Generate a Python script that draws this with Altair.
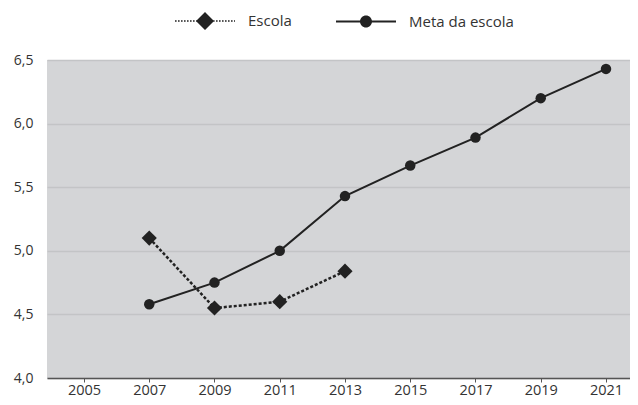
import altair as alt
import pandas as pd

anos_escola = [2007, 2009, 2011, 2013]
valores_escola = [5.10, 4.55, 4.60, 4.84]
anos_meta = [2007, 2009, 2011, 2013, 2015, 2017, 2019, 2021]
valores_meta = [4.58, 4.75, 5.00, 5.43, 5.67, 5.89, 6.20, 6.43]
x_ticks = [2005, 2007, 2009, 2011, 2013, 2015, 2017, 2019, 2021]
y_ticks = [4.0, 4.5, 5.0, 5.5, 6.0, 6.5]
series = ["Escola", "Meta da escola"]

df_escola = pd.DataFrame({"ano": anos_escola, "valor": valores_escola, "serie": "Escola"})
df_meta = pd.DataFrame({"ano": anos_meta, "valor": valores_meta, "serie": "Meta da escola"})
df_all = pd.concat([df_escola, df_meta], ignore_index=True)

INK = "#222222"

# legend glyphs (custom filled symbol paths: line + marker), 1 unit = 10 px
def bar(a, b, h=0.1):
    return f"M{a:.2f},{-h:.2f}H{b:.2f}V{h:.2f}H{a:.2f}Z"

def dotted(a, b, seg=0.16, gap=0.14):
    parts = []
    x = a
    while x < b - 1e-9:
        x2 = min(x + seg, b)
        parts.append(bar(x, x2, 0.08))
        x += seg + gap
    return "".join(parts)

c = 2.0
escola_path = dotted(c - 3, c - 0.8) + dotted(c + 0.8, c + 3) + \
    f"M{c-0.9:.2f},0L{c:.2f},-0.9L{c+0.9:.2f},0L{c:.2f},0.9Z"
meta_path = bar(c - 3, c + 3, 0.09) + \
    f"M{c-0.6:.2f},0A0.6,0.6 0 1,1 {c+0.6:.2f},0A0.6,0.6 0 1,1 {c-0.6:.2f},0Z"

x_enc = alt.X("ano:Q",
              scale=alt.Scale(domain=[2003.866, 2021.736], nice=False, zero=False),
              axis=alt.Axis(values=x_ticks, format="d", title=None, grid=False,
                            domainColor="#555555", domainWidth=1.5,
                            tickColor="#555555", tickSize=4, tickWidth=1,
                            labelColor="#333333", labelFont="Open Sans",
                            labelFontSize=14.5, labelPadding=1))
y_enc = alt.Y("valor:Q",
              scale=alt.Scale(domain=[4.0, 6.5], nice=False, zero=False),
              axis=alt.Axis(values=y_ticks, title=None, domain=False, ticks=False,
                            grid=True, gridColor="#c3c4c6", gridWidth=1.5,
                            labelExpr="replace(format(datum.value, '.1f'), '.', ',')",
                            labelColor="#333333", labelFont="Open Sans",
                            labelFontSize=14, labelPadding=14))

base_e = alt.Chart(df_escola)
base_m = alt.Chart(df_meta)

line_e = base_e.mark_line(color=INK, strokeWidth=2.5, strokeDash=[3, 2]).encode(x=x_enc, y=y_enc)
pts_e = base_e.mark_point(shape="diamond", filled=True, color=INK, size=230, opacity=1).encode(x="ano:Q", y="valor:Q")
line_m = base_m.mark_line(color=INK, strokeWidth=2).encode(x="ano:Q", y="valor:Q")
pts_m = base_m.mark_point(shape="circle", filled=True, color=INK, size=110, opacity=1).encode(x="ano:Q", y="valor:Q")

legend_layer = alt.Chart(df_all).transform_filter("false").mark_point(
    filled=True, color=INK, opacity=1
).encode(
    x="ano:Q", y="valor:Q",
    shape=alt.Shape("serie:N",
                    scale=alt.Scale(domain=series, range=[escola_path, meta_path]),
                    legend=alt.Legend(title=None, orient="none", direction="horizontal",
                                      legendX=128, legendY=-49,
                                      symbolSize=400, symbolFillColor=INK,
                                      symbolStrokeWidth=0, symbolOpacity=1,
                                      labelOffset=53, columnPadding=44,
                                      labelFont="Open Sans", labelFontSize=15,
                                      labelColor="#333333"))
)

chart = alt.layer(line_e, line_m, pts_e, pts_m, legend_layer).properties(
    width=583, height=318, padding={"left": 5, "right": 0, "top": 3, "bottom": 0},
    background="white"
).configure_view(fill="#d4d5d7", stroke=None)

chart.save("out.html", embed_options={"renderer": "svg", "actions": False})
